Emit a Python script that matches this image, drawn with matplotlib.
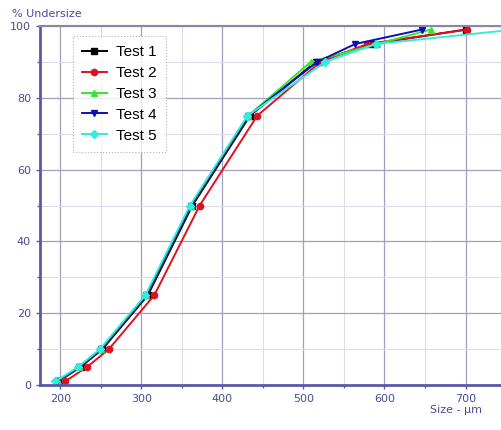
import matplotlib.pyplot as plt
from matplotlib.ticker import MultipleLocator

# percent undersize levels and sizes (um) for each test
pct = [1, 5, 10, 25, 50, 75, 90, 95, 99]
test1 = [198, 225, 252, 308, 363, 434, 515, 585, 700]
test2 = [206, 233, 260, 316, 372, 443, 521, 579, 702]
test3 = [197, 223, 250, 306, 361, 432, 509, 591, 657]
test4 = [196, 223, 250, 306, 361, 432, 517, 564, 646]
test5 = [194, 222, 249, 305, 360, 431, 527, 590, 760]

names = ['Test 1', 'Test 2', 'Test 3', 'Test 4', 'Test 5']
colors = ['#000000', '#e01020', '#33e633', '#1010b0', '#33ecdc']
markers = ['s', 'o', '^', 'v', 'D']

axis_col = '#5a5aa8'
text_col = '#4a4a9a'

fig = plt.figure(figsize=(5.02, 4.3), dpi=100)
ax = fig.add_axes([40 / 502, 45 / 430, 462 / 502, 359 / 430])

for data, name, c, m in zip([test1, test2, test3, test4, test5], names, colors, markers):
    ax.plot(data, pct, color=c, marker=m, markersize=4.5, linewidth=1.4,
            label=name, clip_on=True)

ax.set_xlim(175, 745)
ax.set_ylim(0, 100)
ax.xaxis.set_major_locator(MultipleLocator(100))
ax.xaxis.set_minor_locator(MultipleLocator(50))
ax.yaxis.set_major_locator(MultipleLocator(20))
ax.yaxis.set_minor_locator(MultipleLocator(10))
ax.grid(which='major', color='#a0a0bc', linewidth=0.9)
ax.grid(which='minor', color='#dcdce8', linewidth=0.8)
ax.set_axisbelow(True)

for s in ['left', 'bottom']:
    ax.spines[s].set_color(axis_col)
    ax.spines[s].set_linewidth(2)
ax.spines['top'].set_color('#8888a0')
ax.spines['top'].set_linewidth(1.5)
ax.spines['right'].set_visible(False)

ax.tick_params(which='both', colors=axis_col, labelcolor=text_col, labelsize=8,
               length=3, width=1)
ax.tick_params(which='minor', length=2)

fig.text(12 / 502, 1 - 14 / 430, '% Undersize', color=text_col, fontsize=8,
         va='center', ha='left')
fig.text(430 / 502, 1 - 410 / 430, 'Size - µm', color=text_col, fontsize=8,
         va='center', ha='left')

leg = ax.legend(loc='upper left', bbox_to_anchor=(33 / 462, 1 - 10 / 359),
                borderaxespad=0, prop={'family': 'Liberation Sans', 'size': 11},
                frameon=True, fancybox=False, handlelength=1.6,
                labelspacing=0.45, borderpad=0.6, handletextpad=0.6)
leg.get_frame().set_edgecolor('#a0a0a0')
leg.get_frame().set_linewidth(0.8)
leg.get_frame().set_linestyle(':')

fig.savefig('out.png', dpi=100)
